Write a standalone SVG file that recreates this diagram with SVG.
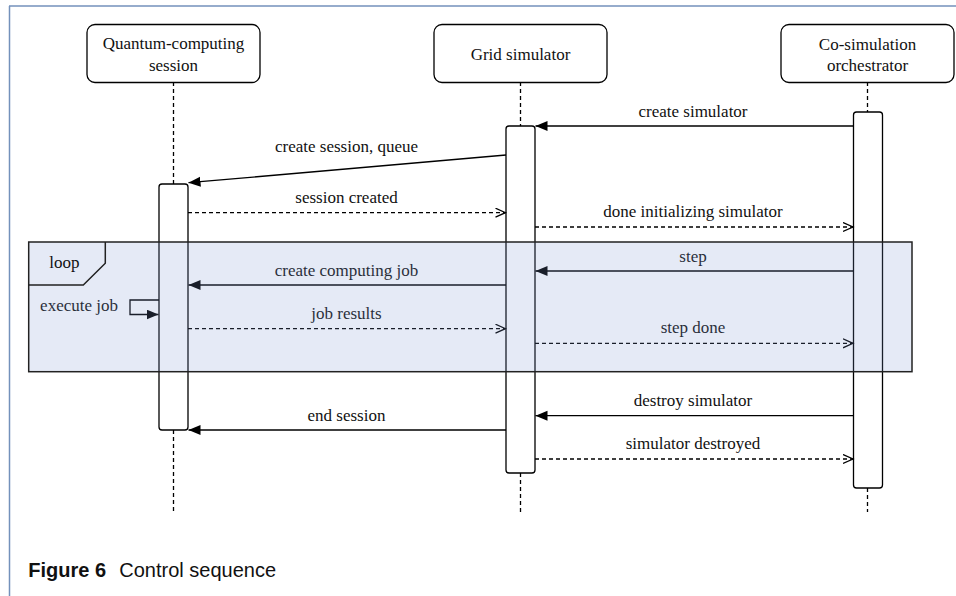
<svg xmlns="http://www.w3.org/2000/svg" width="956" height="596" viewBox="0 0 956 596">
<style>
.t{font-family:"Liberation Serif","Times New Roman",serif;font-size:17px;fill:#111;text-anchor:middle}
.box{fill:#fff;stroke:#000;stroke-width:1.3}
.bar{fill:#fff;stroke:#000;stroke-width:1.3}
.life{stroke:#000;stroke-width:1.3;stroke-dasharray:4 3;fill:none}
.msg{stroke:#000;stroke-width:1.3;fill:none}
.call{marker-end:url(#filled)}
.ret{stroke-dasharray:4 3;marker-end:url(#open)}
.frame{fill:#7b96d0;fill-opacity:0.2;stroke:#222;stroke-width:1.5}
</style>
<defs>
<marker id="filled" markerUnits="userSpaceOnUse" markerWidth="13" markerHeight="11" refX="12" refY="5" orient="auto">
<path d="M0,0 L12,5 L0,10 z" fill="#000"/>
</marker>
<marker id="open" markerUnits="userSpaceOnUse" markerWidth="12" markerHeight="11" refX="10.5" refY="5" orient="auto">
<path d="M0.5,0.5 L10.5,5 L0.5,9.5" fill="none" stroke="#000" stroke-width="1.3"/>
</marker>
</defs>
<rect width="956" height="596" fill="#fff"/>
<g id="page-border" fill="none" stroke="#7391bb" stroke-width="1.5">
<line x1="9" y1="6" x2="956" y2="6"/>
<line x1="9.5" y1="6" x2="9.5" y2="596"/>
</g>
<g id="lifelines">
<line class="life" x1="173.5" y1="82" x2="173.5" y2="184"/>
<line class="life" x1="173.5" y1="430" x2="173.5" y2="512"/>
<line class="life" x1="520.5" y1="82" x2="520.5" y2="126"/>
<line class="life" x1="520.5" y1="473" x2="520.5" y2="512"/>
<line class="life" x1="867.5" y1="82" x2="867.5" y2="112"/>
<line class="life" x1="867.5" y1="488" x2="867.5" y2="512"/>
</g>
<g id="quantum-session">
<rect class="box" x="87" y="24.5" width="173" height="58" rx="8"/>
<text class="t" x="173.5" y="49">Quantum-computing</text>
<text class="t" x="173.5" y="71">session</text>
<rect class="bar" x="159" y="184" width="29" height="246" rx="3"/>
</g>
<g id="grid-simulator">
<rect class="box" x="434" y="24.5" width="173" height="58" rx="8"/>
<text class="t" x="520.5" y="59.5">Grid simulator</text>
<rect class="bar" x="506" y="126" width="29" height="347" rx="3"/>
</g>
<g id="cosim-orchestrator">
<rect class="box" x="781" y="24.5" width="173" height="58" rx="8"/>
<text class="t" x="867.5" y="49.5">Co-simulation</text>
<text class="t" x="867.5" y="71">orchestrator</text>
<rect class="bar" x="853.5" y="112" width="29" height="376" rx="3"/>
</g>
<g id="connectors">
<line class="msg call" x1="853.5" y1="126" x2="535.5" y2="126"/>
<line class="msg call" x1="506" y1="155" x2="188.5" y2="182.7"/>
<line class="msg ret" x1="188" y1="212.7" x2="505.5" y2="212.7"/>
<line class="msg ret" x1="535" y1="227" x2="853" y2="227"/>
<line class="msg call" x1="853.5" y1="271" x2="535.5" y2="271"/>
<line class="msg call" x1="506" y1="285" x2="188.5" y2="285"/>
<path class="msg call" d="M159,300 L130,300 L130,314.5 L158.5,314.5"/>
<line class="msg ret" x1="188" y1="328.7" x2="505.5" y2="328.7"/>
<line class="msg ret" x1="535" y1="343.3" x2="853" y2="343.3"/>
<line class="msg call" x1="853.5" y1="415.7" x2="535.5" y2="415.7"/>
<line class="msg call" x1="506" y1="430" x2="188.5" y2="430"/>
<line class="msg ret" x1="535" y1="459" x2="853" y2="459"/>
</g>
<g id="labels">
<text class="t" x="693" y="116.5">create simulator</text>
<text class="t" x="346.5" y="152.3">create session, queue</text>
<text class="t" x="346.5" y="203.3">session created</text>
<text class="t" x="693" y="217.3">done initializing simulator</text>
<text class="t" x="693" y="261.5">step</text>
<text class="t" x="346.5" y="275.5">create computing job</text>
<text class="t" x="118" y="311" style="text-anchor:end">execute job</text>
<text class="t" x="346.5" y="319.3">job results</text>
<text class="t" x="693" y="333.3">step done</text>
<text class="t" x="693" y="405.7">destroy simulator</text>
<text class="t" x="346.5" y="420.5">end session</text>
<text class="t" x="693" y="449">simulator destroyed</text>
</g>
<g id="loop-frame">
<rect class="frame" x="28.7" y="242" width="883.3" height="129.7"/>
<path d="M28.7,285 L83.3,285 L105.3,263.3 L105.3,242" fill="none" stroke="#222" stroke-width="1.5"/>
<text class="t" x="64.3" y="268.3">loop</text>
</g>
<g id="caption" font-family="'Liberation Sans',Arial,sans-serif" font-size="20" fill="#111">
<text x="28.3" y="576.7" font-weight="bold">Figure 6</text>
<text x="119.3" y="576.7">Control sequence</text>
</g>
</svg>
